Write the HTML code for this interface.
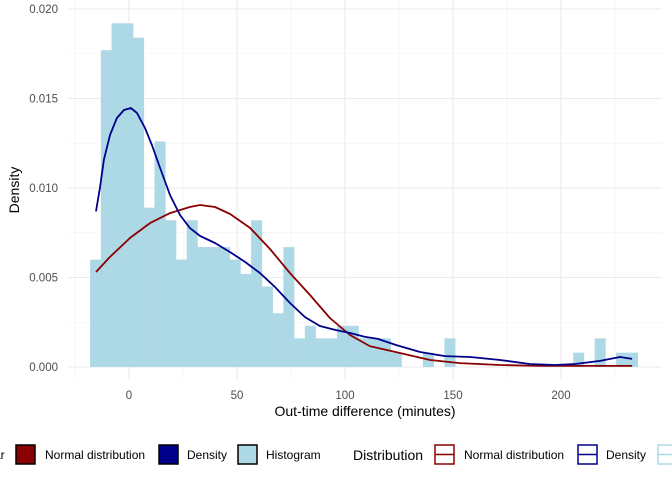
<!DOCTYPE html>
<html><head><meta charset="utf-8"><style>
body{margin:0;background:#fff;}
svg{display:block;font-family:"Liberation Sans",sans-serif;}
</style></head><body>
<svg id="chart" width="672" height="480">
<g id="grid"></g>
<g id="bars"></g>
<g id="lines"></g>
<g id="axes"></g>
<text x="365" y="416" text-anchor="middle" font-size="14" fill="#000">Out-time difference (minutes)</text>
<text transform="translate(19,190) rotate(-90)" text-anchor="middle" font-size="14" fill="#000">Density</text>
<g font-size="12" fill="#000">
<text x="-6" y="459">ar</text>
<rect x="16" y="445" width="19" height="19" fill="#8b0000" stroke="#000" stroke-width="1.5"/>
<text x="45" y="459">Normal distribution</text>
<rect x="159" y="445" width="19" height="19" fill="#00008b" stroke="#000" stroke-width="1.5"/>
<text x="187" y="459">Density</text>
<rect x="238" y="445" width="19" height="19" fill="#add8e6" stroke="#000" stroke-width="1.5"/>
<text x="266" y="459">Histogram</text>
<text x="353" y="460" font-size="14">Distribution</text>
<rect x="435" y="445" width="19" height="19" fill="none" stroke="#8b0000" stroke-width="1.5"/>
<line x1="435" y1="454.5" x2="454" y2="454.5" stroke="#8b0000" stroke-width="1.5"/>
<text x="464" y="459">Normal distribution</text>
<rect x="578" y="445" width="19" height="19" fill="none" stroke="#00008b" stroke-width="1.5"/>
<line x1="578" y1="454.5" x2="597" y2="454.5" stroke="#00008b" stroke-width="1.5"/>
<text x="606" y="459">Density</text>
<rect x="658" y="445" width="19" height="19" fill="none" stroke="#add8e6" stroke-width="1.5"/>
<line x1="658" y1="454.5" x2="677" y2="454.5" stroke="#add8e6" stroke-width="1.5"/>
</g>
</svg>
<script>
const binStart = -18, binWidth = 4.97;
const histDensity = [0.0060,0.0177,0.0192,0.0192,0.0184,0.0089,0.0126,0.0082,0.0060,0.0082,0.0067,0.0067,0.0067,0.0060,0.0052,0.0082,0.0045,0.0030,0.0067,0.0016,0.0023,0.0016,0.0016,0.0023,0.0023,0.0016,0.0016,0.0016,0.0008,0,0,0.0008,0,0.0016,0,0,0,0,0,0,0,0,0,0,0,0.0008,0,0.0016,0,0.0008,0.0008];
const densX = [-15.3,-13.4,-11.6,-8.8,-5.6,-2.3,0.9,3.7,7.4,10.6,14.4,19,23.6,28.2,32.9,39.8,46.8,53.7,60.6,67.6,74.5,81.5,88.4,95.4,102.3,109.3,115.3,123.6,134.7,146.3,157.9,171.8,185.6,197.2,206.5,218.1,227.3,232.9];
const densY = [0.00869,0.01006,0.01158,0.01296,0.01391,0.01436,0.01447,0.01419,0.01335,0.01240,0.01112,0.00961,0.00849,0.00776,0.00732,0.00693,0.00642,0.00587,0.00525,0.00447,0.00358,0.00279,0.00229,0.00207,0.00190,0.00168,0.00157,0.00123,0.00084,0.00061,0.00056,0.00039,0.00017,0.00011,0.00017,0.00034,0.00056,0.00045];
const normX = [-15.3,-8.8,0.5,9.7,19,28.2,32.9,39.8,46.8,56,65.3,74.5,83.8,93,102.3,111.5,125.4,139.4,153.2,171.8,190.3,232.9];
const normY = [0.00531,0.00615,0.00721,0.00804,0.00860,0.00894,0.00905,0.00894,0.00855,0.00777,0.00659,0.00525,0.00402,0.00274,0.00179,0.00117,0.00078,0.00039,0.00022,0.00011,0.00006,0.00006];
const xTicks = [0,50,100,150,200];
const yTicks = [0,0.005,0.010,0.015,0.020];
const yTickLabels = ["0.000","0.005","0.010","0.015","0.020"];

const NS="http://www.w3.org/2000/svg";
const X = v => 129 + v*2.16;
const Y = v => 367 - v*17900;
function mk(tag, attrs, parent){const e=document.createElementNS(NS,tag);for(const k in attrs)e.setAttribute(k,attrs[k]);parent.appendChild(e);return e;}
const grid=document.getElementById('grid'), bars=document.getElementById('bars'), lines=document.getElementById('lines'), axes=document.getElementById('axes');
// minor grid
for(let i=0;i<xTicks.length+1;i++){const v=xTicks[0]-25+50*i;const l=mk('line',{x1:X(v),x2:X(v),y1:0,y2:380,stroke:'#f2f2f2','stroke-width':0.6},grid);

}
for(let i=0;i<yTicks.length-1;i++){const v=yTicks[i]+0.0025;const l=mk('line',{x1:68,x2:662,y1:Y(v),y2:Y(v),stroke:'#f2f2f2','stroke-width':0.6},grid);

}
xTicks.forEach(v=>{const l=mk('line',{x1:X(v),x2:X(v),y1:0,y2:380,stroke:'#ebebeb','stroke-width':1.1},grid);


const t=mk('text',{x:X(v),y:399,'text-anchor':'middle','font-size':11.5,fill:'#4d4d4d'},axes);t.textContent=v;

});
yTicks.forEach((v,i)=>{const l=mk('line',{x1:68,x2:662,y1:Y(v),y2:Y(v),stroke:'#ebebeb','stroke-width':1.1},grid);


const t=mk('text',{x:58,y:Y(v)+4,'text-anchor':'end','font-size':11.5,fill:'#4d4d4d'},axes);t.textContent=yTickLabels[i];

});
histDensity.forEach((d,i)=>{if(d<=0)return;const x0=X(binStart+i*binWidth),x1=X(binStart+(i+1)*binWidth);
const r=mk('rect',{x:x0,y:Y(d),width:x1-x0+0.3,height:Y(0)-Y(d),fill:'#add8e6'},bars);

});
function path(xs,ys,color,name){const d=xs.map((x,i)=>(i?'L':'M')+X(x).toFixed(1)+','+Y(ys[i]).toFixed(1)).join(' ');
const p=mk('path',{d:d,fill:'none',stroke:color,'stroke-width':1.8,'stroke-linejoin':'round'},lines);

}
path(normX,normY,'#8b0000','normal-distribution-line');
path(densX,densY,'#00008b','density-line');
</script>
</body></html>
